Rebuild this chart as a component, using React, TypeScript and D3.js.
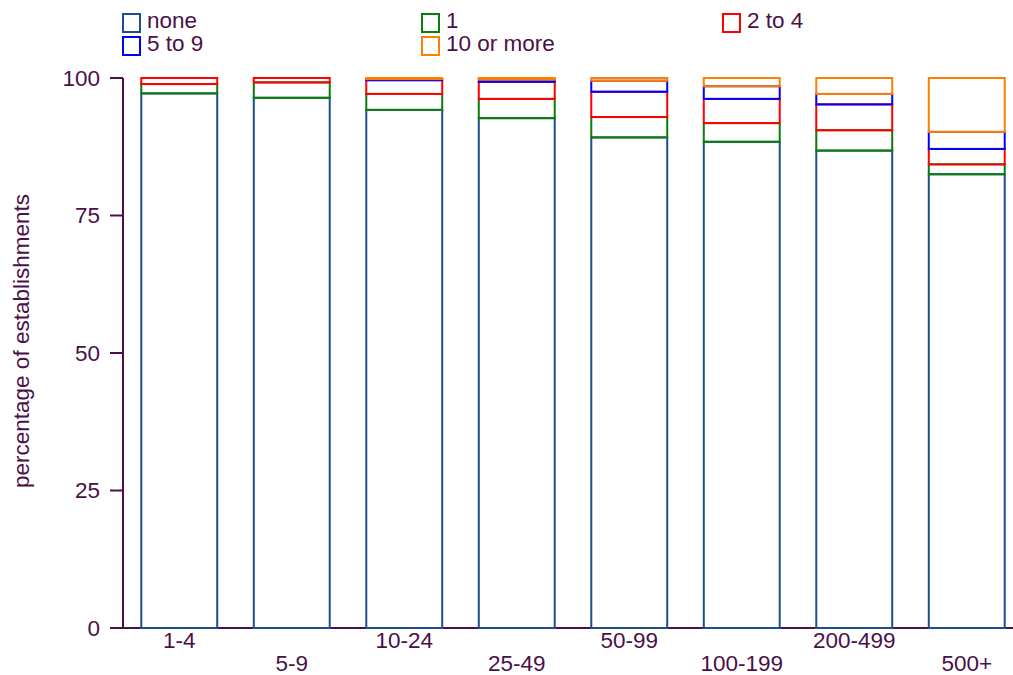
import React from "react";
import * as d3 from "d3";

// Establishment size classes
const categories = ["1-4", "5-9", "10-24", "25-49", "50-99", "100-199", "200-499", "500+"];

// Series (percent of establishments in each size class)
const seriesNames = ["none", "1", "2 to 4", "5 to 9", "10 or more"];
const noneVals = [97.2, 96.4, 94.2, 92.7, 89.2, 88.4, 86.8, 82.5];
const oneVals = [1.7, 2.8, 2.9, 3.5, 3.7, 3.4, 3.7, 1.8];
const twoToFourVals = [1.1, 0.8, 2.5, 3.1, 4.6, 4.4, 4.7, 2.8];
const fiveToNineVals = [0.0, 0.0, 0.2, 0.4, 2.0, 2.3, 1.9, 3.1];
const tenPlusVals = [0.0, 0.0, 0.2, 0.3, 0.5, 1.5, 2.9, 9.8];
const seriesValues = [noneVals, oneVals, twoToFourVals, fiveToNineVals, tenPlusVals];
const seriesColors = ["#1c4f8c", "#0a7d0a", "#ff0000", "#0000ff", "#ff8000"];

const yTicks = [0, 25, 50, 75, 100];

const W = 1013;
const H = 675;
const TEXT = "#4a1048";
const FONT = "'Liberation Sans', Arial, sans-serif";
const FS = 22.5;

export default function App() {
  const x = d3
    .scaleBand<string>()
    .domain(categories)
    .range([123, 1023])
    .paddingInner(0.325)
    .paddingOuter(0.1625);
  const y = d3.scaleLinear().domain([0, 100]).range([628, 78]);

  const rows = categories.map((c, i) => {
    const r: Record<string, number | string> = { cat: c };
    seriesNames.forEach((s, k) => (r[s] = seriesValues[k][i]));
    return r;
  });
  const stacked = d3.stack<Record<string, number | string>>().keys(seriesNames)(rows as any);

  const legendPos = [
    [122, 13],
    [421, 13],
    [722, 13],
    [122, 36],
    [421, 36],
  ];

  return (
    <svg
      width={W}
      height={H}
      style={{ position: "absolute", left: 0, top: 0, background: "#fff" }}
      fontFamily={FONT}
    >
      {/* axes */}
      <line x1={123} x2={123} y1={y(100)} y2={y(0)} stroke={TEXT} strokeWidth={2} />
      <line x1={110} x2={1013} y1={y(0)} y2={y(0)} stroke={TEXT} strokeWidth={2} />
      {yTicks.map((t) => (
        <g key={t}>
          <line x1={110} x2={123} y1={y(t)} y2={y(t)} stroke={TEXT} strokeWidth={2} />
          <text x={100} y={y(t)} dy="0.35em" textAnchor="end" fontSize={FS} fill={TEXT}>
            {t}
          </text>
        </g>
      ))}
      <text
        transform={`translate(29,341) rotate(-90)`}
        textAnchor="middle"
        fontSize={FS}
        fill={TEXT}
      >
        percentage of establishments
      </text>

      {/* stacked bars, drawn bottom segment first */}
      {stacked.map((layer, k) => (
        <g key={layer.key}>
          {layer.map((d, i) =>
            d[1] - d[0] > 0 ? (
              <rect
                key={i}
                x={x(categories[i])!}
                width={x.bandwidth()}
                y={y(d[1])}
                height={y(d[0]) - y(d[1])}
                fill="none"
                stroke={seriesColors[k]}
                strokeWidth={2}
              />
            ) : null
          )}
        </g>
      ))}

      {/* category labels, alternating rows */}
      {categories.map((c, i) => (
        <text
          key={c}
          x={x(c)! + x.bandwidth() / 2}
          y={i % 2 === 0 ? 648 : 671}
          textAnchor="middle"
          fontSize={FS}
          fill={TEXT}
        >
          {c}
        </text>
      ))}

      {/* legend */}
      {seriesNames.map((s, k) => (
        <g key={s} transform={`translate(${legendPos[k][0]},${legendPos[k][1]})`}>
          <rect x={1} y={1} width={17} height={18} fill="none" stroke={seriesColors[k]} strokeWidth={2} />
          <text x={25} y={15} fontSize={FS} fill={TEXT}>
            {s}
          </text>
        </g>
      ))}
    </svg>
  );
}
